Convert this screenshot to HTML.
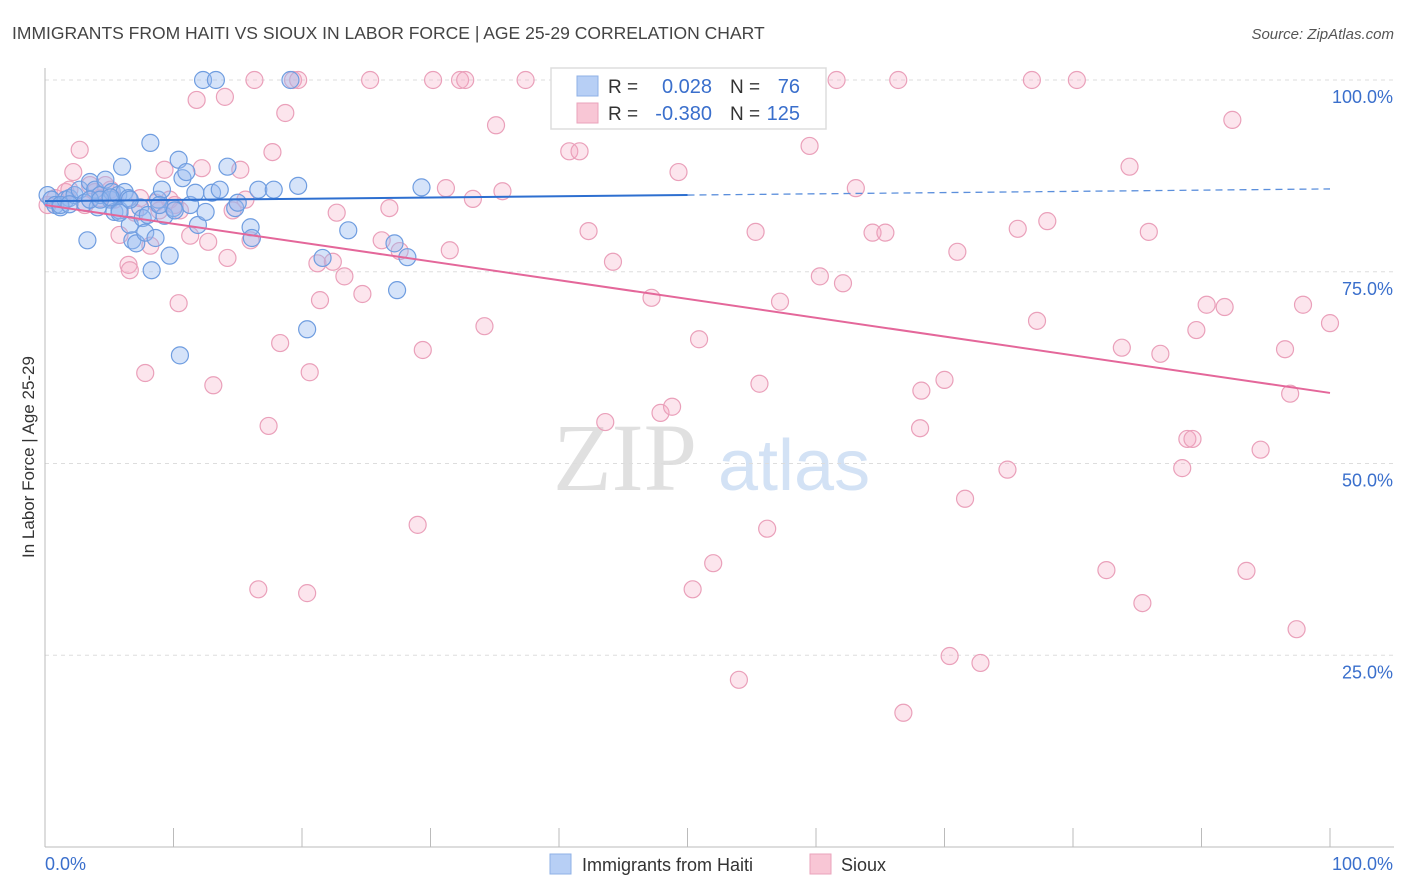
<!DOCTYPE html>
<html><head><meta charset="utf-8">
<style>
body{margin:0;background:#fff;font-family:"Liberation Sans",sans-serif;}
svg{display:block}
</style></head><body>
<svg id="chart" width="1406" height="892" xmlns="http://www.w3.org/2000/svg">
<text x="12" y="39" font-size="17.5" fill="#444">IMMIGRANTS FROM HAITI VS SIOUX IN LABOR FORCE | AGE 25-29 CORRELATION CHART</text>
<text x="1394" y="39" font-size="15" fill="#555" font-style="italic" text-anchor="end">Source: ZipAtlas.com</text>
<g>
<text x="553" y="490" font-size="96" fill="#e0e0e0" font-family="Liberation Serif,serif">ZIP</text>
<text x="718" y="490" font-size="72" fill="#d3e2f5">atlas</text>
</g>
<g id="grid"></g>
<g id="axes"></g>
<g id="marks"></g>
<g>
<rect x="551" y="68" width="275" height="61" fill="#fff" stroke="#ddd" stroke-width="1.5"/>
<rect x="577" y="76" width="21" height="20" fill="#b7cff5" stroke="#8fb0e6"/>
<rect x="577" y="103" width="21" height="20" fill="#f8c6d5" stroke="#eaa3bb"/>
<text x="608" y="93" font-size="19" fill="#333">R =</text>
<text x="712" y="93" font-size="20" fill="#3a6fcc" text-anchor="end">0.028</text>
<text x="730" y="93" font-size="19" fill="#333">N =</text>
<text x="800" y="93" font-size="20" fill="#3a6fcc" text-anchor="end">76</text>
<text x="608" y="120" font-size="19" fill="#333">R =</text>
<text x="712" y="120" font-size="20" fill="#3a6fcc" text-anchor="end">-0.380</text>
<text x="730" y="120" font-size="19" fill="#333">N =</text>
<text x="800" y="120" font-size="20" fill="#3a6fcc" text-anchor="end">125</text>
</g>
<g>
<rect x="550" y="854" width="21" height="20" fill="#b7cff5" stroke="#8fb0e6"/>
<text x="582" y="871" font-size="18" fill="#333">Immigrants from Haiti</text>
<rect x="810" y="854" width="21" height="20" fill="#f8c6d5" stroke="#eaa3bb"/>
<text x="841" y="871" font-size="18" fill="#333">Sioux</text>
</g>
<text transform="translate(34,457) rotate(-90)" font-size="17" fill="#333" text-anchor="middle">In Labor Force | Age 25-29</text>
</svg>
<script>
const blueX=[0.2,0.5,0.8,1.2,1.6,1.9,2.3,2.7,3.1,3.3,3.5,3.9,4.1,4.3,4.7,5.1,5.2,5.4,5.7,5.8,6.0,6.2,6.5,6.6,6.8,7.1,7.4,7.6,7.8,8.0,8.2,8.3,8.6,8.8,9.1,9.3,9.7,10.0,10.4,10.5,10.7,11.0,11.3,11.7,11.9,12.3,12.5,13.0,13.3,13.6,14.2,14.8,15.0,16.0,16.1,16.6,17.8,19.1,19.7,20.4,21.6,23.6,27.2,27.4,28.2,29.3,43.2,1.2,1.9,3.5,4.3,5.1,5.8,6.6,8.9,10.1];
const blueY=[85.0,84.4,83.7,83.4,84.4,84.6,85.0,85.7,84.0,79.1,86.7,85.7,83.4,85.0,87.0,84.4,85.4,82.8,85.0,83.0,88.7,85.4,84.6,81.1,79.1,78.7,83.4,82.0,80.1,82.4,91.8,75.2,79.4,84.4,85.7,82.3,77.1,83.3,89.6,64.1,87.2,88.0,83.7,85.3,81.1,100,82.8,85.3,100,85.7,88.7,83.3,84.0,80.8,79.4,85.7,85.7,100,86.2,67.5,76.8,80.4,78.7,72.6,76.9,86.0,100,83.7,83.8,84.4,84.4,84.7,82.7,84.4,83.7,83.0];
const pinkX=[0.2,0.8,1.6,1.9,2.2,2.7,3.1,3.5,3.9,4.3,4.7,5.1,5.4,5.8,6.5,6.6,7.0,7.4,7.8,8.2,8.6,8.9,9.3,9.7,10.1,10.4,10.5,11.3,11.8,12.2,12.7,13.1,14.0,14.2,14.6,15.2,15.6,16.0,16.3,16.6,17.4,17.7,18.3,18.7,19.3,19.7,20.4,20.6,21.2,21.4,22.4,22.7,23.3,24.7,25.3,26.2,26.8,27.6,29.0,29.4,30.2,31.2,31.5,32.3,32.7,33.3,34.2,35.1,35.6,37.4,40.8,41.6,42.3,43.6,44.2,47.2,47.9,48.8,49.3,50.4,50.9,52.0,54.0,55.3,55.6,56.2,57.2,59.5,60.3,61.6,62.1,63.1,64.4,65.4,66.4,66.8,68.1,68.2,70.0,70.4,71.0,71.6,72.8,74.9,75.7,76.8,77.2,78.0,80.3,82.6,83.8,84.4,85.4,85.9,86.8,88.5,88.9,89.3,89.6,90.4,91.8,92.4,93.5,94.6,96.5,96.9,97.4,97.9,100];
const pinkY=[83.7,84.6,85.4,85.7,88.0,90.9,83.7,86.3,85.4,84.6,86.3,85.7,84.4,79.8,75.9,75.2,82.7,84.6,61.8,78.4,84.0,83.0,88.3,84.4,83.7,70.9,83.0,79.7,97.4,88.5,78.9,60.2,97.8,76.8,83.0,88.3,84.4,79.1,100,33.6,54.9,90.6,65.7,95.7,100,100,33.1,61.9,76.1,71.3,76.3,82.7,74.4,72.1,100,79.1,83.3,77.7,42.0,64.8,100,85.9,77.8,100,100,84.5,67.9,94.1,85.5,100,90.7,90.7,80.3,55.4,76.3,71.6,56.6,57.4,88.0,33.6,66.2,37.0,21.8,80.2,60.4,41.5,71.1,91.4,74.4,100,73.5,85.9,80.1,80.1,100,17.5,54.6,59.5,60.9,24.9,77.6,45.4,24.0,49.2,80.6,100,68.6,81.6,100,36.1,65.1,88.7,31.8,80.2,64.3,49.4,53.2,53.2,67.4,70.7,70.4,94.8,36.0,51.8,64.9,59.1,28.4,70.7,68.3];
const blueTrend=[84.2,85.8];
const pinkTrend=[83.7,59.2];
const yTicks=[100,75,50,25];
const yTickLabels=["100.0%","75.0%","50.0%","25.0%"];
const xTicks=[0,10,20,30,40,50,60,70,80,90,100];

const NS="http://www.w3.org/2000/svg";
const X0=45,X1=1330,Y0=847,Y100=80;
const sx=v=>X0+(X1-X0)*v/100;
const sy=v=>Y0-(Y0-Y100)*v/100;
function mk(tag,attrs,parent){const e=document.createElementNS(NS,tag);for(const k in attrs)e.setAttribute(k,attrs[k]);parent.appendChild(e);return e;}
const grid=document.getElementById('grid'),axes=document.getElementById('axes'),marks=document.getElementById('marks');
yTicks.forEach((t,i)=>{
 const l=mk('line',{x1:X0,x2:1394,y1:sy(t),y2:sy(t),stroke:'#ddd','stroke-dasharray':'4,4'},grid);
 
 
 const tx=mk('text',{x:1393,y:sy(t)+23,'font-size':18,fill:'#3a6fcc','text-anchor':'end'},axes);
 tx.textContent=yTickLabels[i];
 
 
});
const ax=mk('line',{x1:X0,x2:X0,y1:68,y2:Y0,stroke:'#bbb'},axes);


const bx=mk('line',{x1:X0,x2:1394,y1:Y0,y2:Y0,stroke:'#bbb'},axes);


xTicks.forEach(t=>{
 const l=mk('line',{x1:sx(t),x2:sx(t),y1:828,y2:Y0,stroke:'#bbb'},axes);
 
 
});
const xl=mk('text',{x:45,y:870,'font-size':18,fill:'#3a6fcc'},axes);xl.textContent='0.0%';


const xr=mk('text',{x:1393,y:870,'font-size':18,fill:'#3a6fcc','text-anchor':'end'},axes);xr.textContent='100.0%';



pinkX.forEach((x,i)=>{
 const c=mk('circle',{cx:sx(x),cy:sy(pinkY[i]),r:8.5,fill:'rgba(245,170,195,0.3)',stroke:'#eaa0ba','stroke-width':1.2},marks);
 
 
});
blueX.forEach((x,i)=>{
 const c=mk('circle',{cx:sx(x),cy:sy(blueY[i]),r:8.5,fill:'rgba(150,185,240,0.4)',stroke:'#6f9de0','stroke-width':1.2},marks);
 
 
});
const bm=blueTrend[0]+(blueTrend[1]-blueTrend[0])*0.5;
const t1=mk('line',{x1:sx(0),y1:sy(blueTrend[0]),x2:sx(50),y2:sy(bm),stroke:'#2d6fd0','stroke-width':2},marks);


const t2=mk('line',{x1:sx(50),y1:sy(bm),x2:sx(100),y2:sy(blueTrend[1]),stroke:'#5b8fdc','stroke-width':1.3,'stroke-dasharray':'7,5'},marks);


const t3=mk('line',{x1:sx(0),y1:sy(pinkTrend[0]),x2:sx(100),y2:sy(pinkTrend[1]),stroke:'#e4679a','stroke-width':2},marks);


</script>
</body></html>
